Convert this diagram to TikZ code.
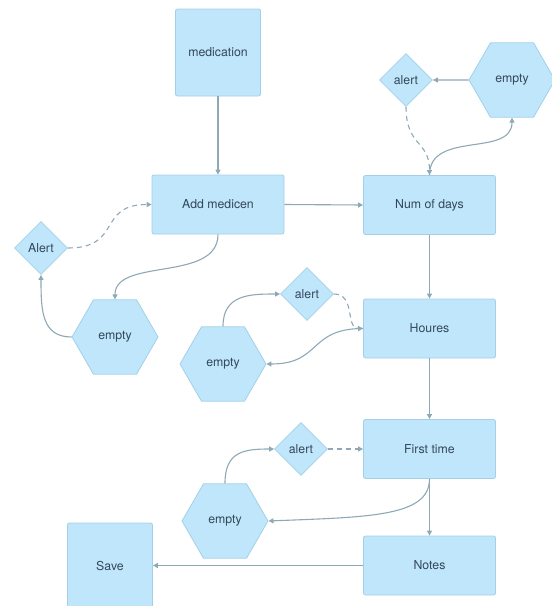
\documentclass[tikz,border=0pt]{standalone}
\usepackage{fontspec}
\setmainfont{TeX Gyre Heros}
\usetikzlibrary{shapes.geometric,arrows.meta}
\definecolor{boxfill}{HTML}{BFE6FA}
\definecolor{boxline}{HTML}{A3D0E8}
\definecolor{linkcol}{HTML}{8FA8B6}
\definecolor{txtcol}{HTML}{34475A}
\tikzset{
  every node/.style={font=\fontsize{12.3}{14}\selectfont, text=txtcol},
  stepbox/.style={draw=boxline, fill=boxfill, line width=0.8pt, rounded corners=2pt,
    minimum width=132pt, minimum height=59pt, inner sep=0pt},
  tallbox/.style={stepbox, minimum width=85pt, minimum height=87pt},
  alertbox/.style={diamond, draw=boxline, fill=boxfill, line width=0.8pt,
    minimum width=53pt, minimum height=53pt, inner sep=0pt},
  hexbox/.style={regular polygon, regular polygon sides=6, draw=boxline, fill=boxfill,
    line width=0.8pt, minimum size=86pt, inner sep=0pt},
  link/.style={draw=linkcol, line width=1.1pt, -{Triangle[width=5pt,length=5pt]}},
  dlink/.style={link, dash pattern=on 5pt off 4pt},
}
\begin{document}
\begin{tikzpicture}[x=1pt,y=-1pt]
\useasboundingbox (0,0) rectangle (552,606);

% main flow
\node[tallbox] (med)   at (218,52.5)  {medication};
\node[stepbox] (add)   at (218,204.5) {Add medicen};
\node[stepbox] (days)  at (429.5,205)   {Num of days};
\node[stepbox] (hours) at (429.5,328.5) {Houres};
\node[stepbox] (first) at (429.5,449)   {First time};
\node[stepbox] (notes) at (429.5,565.5) {Notes};
\node[draw=boxline, fill=boxfill, line width=0.8pt, rounded corners=2pt,
      minimum width=85pt, minimum height=86pt, inner sep=0pt] (save) at (110,566) {Save};

% alert diamonds
\node[alertbox] (alertT) at (406,80)  {alert};
\node[alertbox] (alertL) at (41,248)  {Alert};
\node[alertbox] (alertM) at (307,294) {alert};
\node[alertbox] (alertB) at (301,449) {alert};

% empty hexagons
\node[hexbox] (hexT) at (512,80)  {empty};
\node[hexbox] (hexL) at (115,337) {empty};
\node[hexbox] (hexM) at (223,364) {empty};
\node[hexbox] (hexB) at (225,521) {empty};

% straight links
\draw[link] (med.south) -- (add.north);
\draw[link] (add.east) -- (days.west);
\draw[link] (days.south) -- (hours.north);
\draw[link] (hours.south) -- (first.north);
\draw[link] (first.south) -- (notes.north);
\draw[link] (notes.west) -- (notes.west -| save.east);
\draw[link] (hexT.west) -- (alertT.east);
\draw[dlink] (alertB.east) -- (first.west);

% curved links
\draw[dlink] (alertT.south) .. controls +(0,40) and +(0,-35) .. (days.north);
\draw[link] (days.north) .. controls +(0,-45) and +(0,40) .. (hexT.south);
\draw[dlink] (alertL.east) .. controls +(55,0) and +(-55,0) .. (add.west);
\draw[link] (add.south) .. controls +(0,48) and +(0,-42) .. (hexL.north);
\draw[link] (hexL.west) .. controls +(-30,0) and +(0,35) .. (alertL.south);
\draw[link] (hexM.north) .. controls +(0,-32) and +(-30,0) .. (alertM.west);
\draw[dlink] (alertM.east) .. controls +(22,0) and +(-18,0) .. (hours.west);
\draw[link] (hours.west) .. controls +(-55,0) and +(55,0) .. (hexM.east);
\draw[link] (hexB.north) .. controls +(0,-32) and +(-30,0) .. (alertB.west);
\draw[link] (first.south) .. controls +(0,38) and +(100,-4) .. (hexB.east);
\end{tikzpicture}
\end{document}
